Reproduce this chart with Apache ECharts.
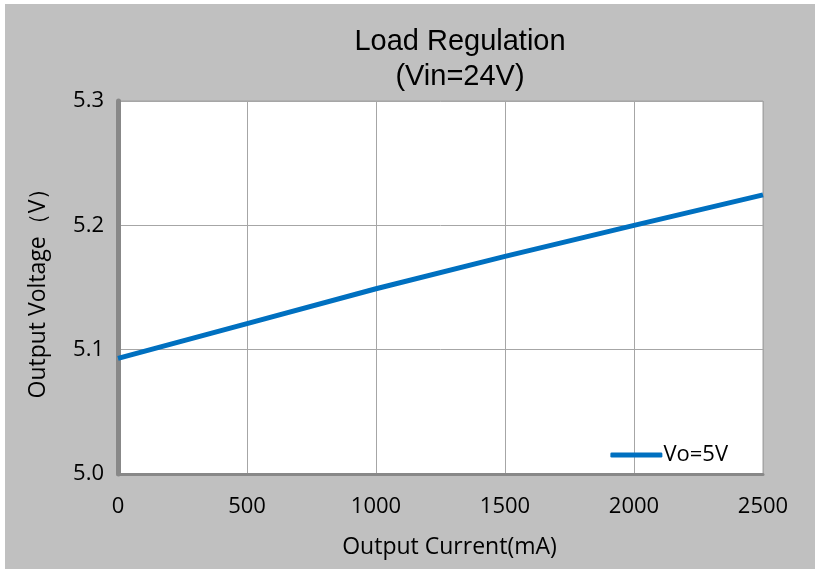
<!DOCTYPE html>
<html>
<head>
<meta charset="utf-8">
<script src="https://cdn.jsdelivr.net/npm/echarts@6/dist/echarts.min.js"></script>
<style>
  html, body { margin: 0; padding: 0; background: #fff; }
  #chart { width: 815px; height: 569px; }
</style>
</head>
<body>
<div id="chart"></div>
<script>
// values
const current = [0, 500, 1000, 1500, 2000, 2500]
const voltage = [5.093, 5.121, 5.149, 5.175, 5.200, 5.2245]
const seriesName = 'Vo=5V'

const chart = echarts.init(document.getElementById('chart'))

const option = {
  backgroundColor: '#fff',
  animation: false,
  graphic: [
    { type: 'rect', z: -10, shape: { x: 5, y: 4, width: 810, height: 565 }, style: { fill: '#c0c0c0' } }
  ],
  title: {
    text: 'Load Regulation\n(Vin=24V)',
    left: 455,
    top: 19,
    textAlign: 'center',
    textStyle: {
      fontFamily: 'Liberation Sans',
      fontWeight: 'normal',
      fontSize: 29,
      lineHeight: 35,
      color: '#000'
    }
  },
  legend: {
    data: [seriesName],
    right: 82,
    top: 439,
    itemWidth: 52,
    itemHeight: 5,
    itemGap: 4,
    icon: 'roundRect',
    textStyle: { fontFamily: 'Open Sans', fontSize: 22, color: '#000', padding: [0, 0, 0, -4] }
  },
  grid: {
    left: 118,
    right: 52,
    top: 101,
    bottom: 95,
    show: true,
    backgroundColor: '#fff',
    borderColor: '#a0a0a0',
    borderWidth: 1
  },
  xAxis: {
    type: 'value',
    min: 0,
    max: 2500,
    interval: 500,
    name: 'Output Current(mA)',
    nameLocation: 'middle',
    nameGap: 62,
    nameTextStyle: { fontFamily: 'Open Sans', fontSize: 23, color: '#000', padding: [0, 0, 0, 18] },
    axisLine: { show: true, lineStyle: { color: '#888', width: 3 } },
    axisTick: { show: false },
    axisLabel: { margin: 22, fontFamily: 'Open Sans', fontSize: 22, color: '#000', formatter: v => String(v) },
    splitLine: { show: true, lineStyle: { color: '#a6a6a6', width: 1 } }
  },
  yAxis: {
    type: 'value',
    min: 5.0,
    max: 5.3,
    interval: 0.1,
    name: 'Output Voltage（V）',
    nameLocation: 'middle',
    nameGap: 68,
    nameTextStyle: { fontFamily: 'Open Sans', fontSize: 23, color: '#000' },
    axisLine: { show: true, lineStyle: { color: '#888', width: 5 } },
    axisTick: { show: false },
    axisLabel: {
      margin: 14,
      fontFamily: 'Open Sans',
      fontSize: 22,
      color: '#000',
      formatter: v => v.toFixed(1)
    },
    splitLine: { show: true, lineStyle: { color: '#a6a6a6', width: 1 } }
  },
  series: [
    {
      name: seriesName,
      type: 'line',
      data: current.map((x, i) => [x, voltage[i]]),
      showSymbol: false,
      smooth: false,
      lineStyle: { color: '#0070c0', width: 5 },
      itemStyle: { color: '#0070c0' }
    }
  ]
}

chart.setOption(option)
</script>
</body>
</html>
